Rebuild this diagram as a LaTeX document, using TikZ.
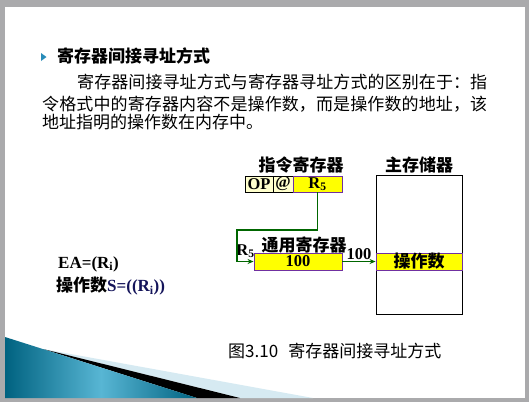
\documentclass[tikz,border=0pt]{standalone}
\usepackage{fontspec}
\setmainfont{Liberation Serif}
\newfontfamily\cjk{Noto Sans CJK SC}
\usetikzlibrary{arrows.meta}

% spread the characters of a line evenly over a given width
\newcommand\spreadline[2]{\hbox to #1{\spreadA#2\relax}}
\def\spreadA#1{#1\spreadB}
\def\spreadB#1{\ifx#1\relax\else\hfil#1\expandafter\spreadB\fi}

\definecolor{regyellow}{RGB}{255,255,0}
\definecolor{paleyellow}{RGB}{255,255,204}
\definecolor{regpurple}{RGB}{112,48,160}
\definecolor{linkgreen}{RGB}{0,102,0}
\definecolor{frame}{RGB}{170,170,172}
\definecolor{tealdark}{RGB}{0,98,128}
\definecolor{teallight}{RGB}{88,182,212}
\definecolor{paleblue}{RGB}{214,234,242}
\definecolor{bullet}{RGB}{40,140,185}
\definecolor{navytext}{RGB}{20,20,90}

\tikzset{
  cjktext/.style={inner sep=0pt, font=\cjk\fontsize{17bp}{20bp}\selectfont},
  cjkbold/.style={inner sep=0pt, font=\cjk\bfseries\fontsize{17bp}{20bp}\selectfont},
  latinbold/.style={inner sep=0pt, font=\bfseries\fontsize{16.5bp}{17bp}\selectfont},
  regbox/.style={draw=regpurple, fill=regyellow, line width=0.9bp, inner sep=0pt},
  fieldbox/.style={draw=black, fill=paleyellow, line width=0.7bp, inner sep=0pt},
  conn/.style={draw=linkgreen, line width=1.6bp, -{Stealth[length=6bp,width=5bp]}},
}

\begin{document}
\begin{tikzpicture}[x=1bp, y=-1bp]
\useasboundingbox (0,0) rectangle (529,402);

% slide frame and page
\fill[frame] (0,0) rectangle (529,402);
\fill[white] (5,7) rectangle (525,398);

% bottom decoration
\begin{scope}
  \clip (5,7) rectangle (525,398);
  \fill[paleblue] (43,349) -- (313,398) -- (240,398) -- cycle;
  \fill[black] (43,349) -- (240,398) -- (197,398) -- cycle;
  \shade[left color=tealdark, right color=tealdark, middle color=teallight]
    (5,337) -- (197,398) -- (5,398) -- cycle;
\end{scope}

% heading with bullet
\fill[bullet] (41,53) -- (46.5,57) -- (41,61) -- cycle;
\node[cjkbold, anchor=west] (title) at (57,56) {寄存器间接寻址方式};

% paragraph
\node[cjktext, anchor=west] (line1) at (77,82)
  {\spreadline{410bp}{寄存器间接寻址方式与寄存器寻址方式的区别在于：指}};
\node[cjktext, anchor=west] (line2) at (42,104)
  {\spreadline{445bp}{令格式中的寄存器内容不是操作数，而是操作数的地址，该}};
\node[cjktext, anchor=west] (line3) at (42,122) {地址指明的操作数在内存中。};

% instruction register
\node[cjkbold] (irlabel) at (301,165) {指令寄存器};
\node[fieldbox, minimum width=28bp, minimum height=16bp, latinbold] (irop) at (259,184) {OP};
\node[fieldbox, minimum width=20bp, minimum height=16bp, latinbold] (irat) at (283,184) {@};
\node[regbox, minimum width=49bp, minimum height=16bp, latinbold] (irreg) at (317.5,184) {R\textsubscript{5}};

% main memory
\node[cjkbold] (memlabel) at (419,165) {主存储器};
\node[draw=black, fill=white, line width=0.8bp, minimum width=86bp, minimum height=139bp, inner sep=0pt] (mem) at (419,244.5) {};
\node[regbox, minimum width=86bp, minimum height=17bp, cjkbold] (memop) at (419,261.5) {操作数};

% general-purpose register
\node[cjkbold] (gprlabel) at (304,245) {通用寄存器};
\node[regbox, minimum width=88bp, minimum height=17bp, latinbold] (gpr) at (298,261.5) {100};
\node[latinbold] (gprname) at (245.5,251) {R\textsubscript{5}};

% connectors
\coordinate (bend) at (237,230);
\draw[conn] (irreg.south) |- (bend) |- (gpr.west);
\draw[conn] (gpr.east) -- node[latinbold, above=1.5bp] (addr) {100} (memop.west);

% formulas
\node[anchor=west, inner sep=0pt, font=\bfseries\fontsize{17bp}{18bp}\selectfont] (ea) at (58,264)
  {EA=(R\textsubscript{i})};
\node[anchor=west, inner sep=0pt, font=\bfseries\fontsize{17bp}{18bp}\selectfont] (opnd) at (56,286)
  {{\cjk\fontsize{17bp}{18bp}\selectfont 操作数}\textcolor{navytext}{S=((R\textsubscript{i}))}};

% caption
\node[cjktext, anchor=west] (caption) at (228,351) {图3.10\hspace{0.6em}寄存器间接寻址方式};
\end{tikzpicture}
\end{document}
